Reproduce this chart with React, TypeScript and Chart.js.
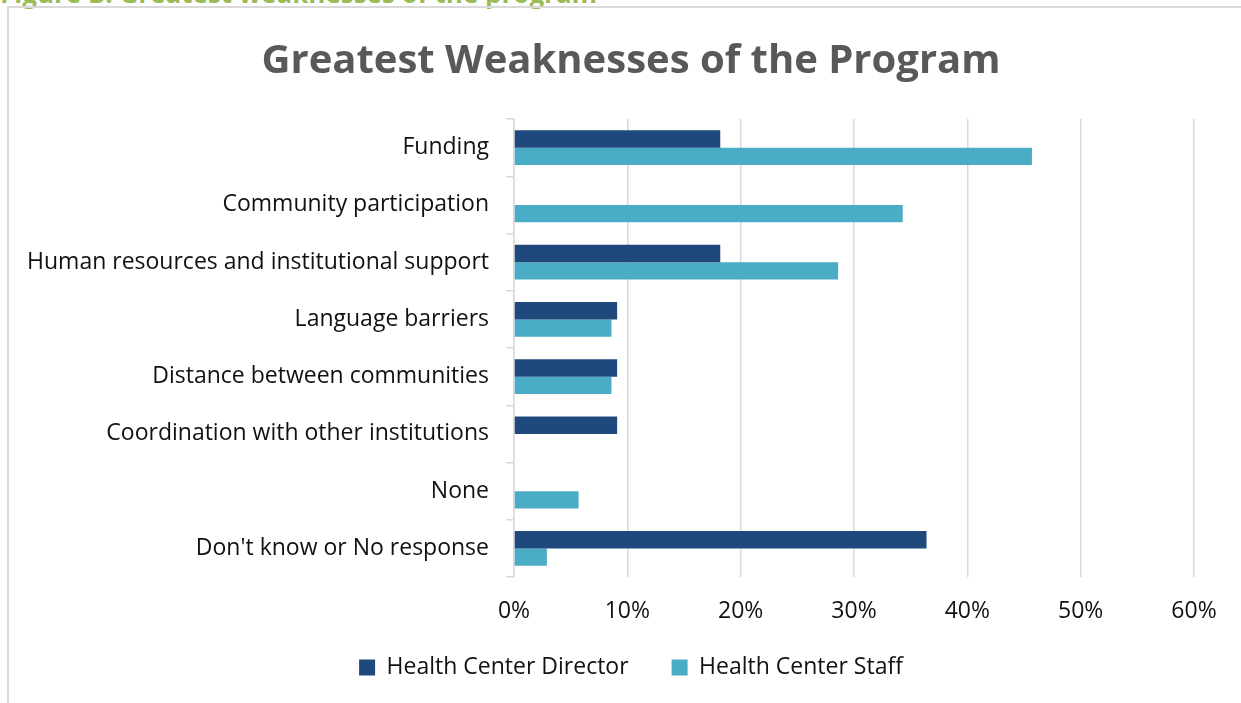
import React, { useEffect, useRef } from "react";
import { Chart, registerables } from "chart.js";

Chart.register(...registerables);

const categories: string[] = [
  "Funding",
  "Community participation",
  "Human resources and institutional support",
  "Language barriers",
  "Distance between communities",
  "Coordination with other institutions",
  "None",
  "Don't know or No response",
];

const directorValues: number[] = [18.2, 0, 18.2, 9.1, 9.1, 9.1, 0, 36.4];
const staffValues: number[] = [45.7, 34.3, 28.6, 8.6, 8.6, 0, 5.7, 2.9];

const seriesNames: string[] = ["Health Center Director", "Health Center Staff"];
const xTicks: number[] = [0, 10, 20, 30, 40, 50, 60];

const chartTitle = "Greatest Weaknesses of the Program";
const captionText = "Figure B: Greatest weaknesses of the program";

const FONT = '"Open Sans", "DejaVu Sans", sans-serif';

// moves the legend up so it sits closer to the axis labels, like the reference
const legendShift = {
  id: "legendShift",
  afterLayout(chart: any) {
    const l = chart.legend;
    if (l) {
      l.top -= 20;
      l.bottom = l.top + 82;
      l.height = 82;
    }
  },
};

export default function App() {
  const ref = useRef<HTMLCanvasElement | null>(null);

  useEffect(() => {
    if (!ref.current) return;
    const chart = new Chart(ref.current, {
      type: "bar",
      data: {
        labels: categories,
        datasets: [
          {
            label: seriesNames[0],
            data: directorValues,
            backgroundColor: "#1F497D",
            borderWidth: 0,
            categoryPercentage: 0.61,
            barPercentage: 1,
          },
          {
            label: seriesNames[1],
            data: staffValues,
            backgroundColor: "#4BACC6",
            borderWidth: 0,
            categoryPercentage: 0.61,
            barPercentage: 1,
          },
        ],
      },
      options: {
        indexAxis: "y",
        responsive: false,
        animation: false,
        layout: { padding: { left: 12, right: 0, top: 0, bottom: 10 } },
        plugins: {
          title: {
            display: true,
            text: chartTitle,
            color: "#595959",
            font: { family: FONT, size: 40, weight: "bold" },
            padding: { top: 30, bottom: 33 },
          },
          legend: {
            display: true,
            position: "bottom",
            maxHeight: 60,
            labels: {
              color: "#111",
              font: { family: FONT, size: 23 },
              boxWidth: 16,
              boxHeight: 16,
              padding: 43,
            },
          },
          tooltip: { enabled: false },
        },
        scales: {
          x: {
            min: 0,
            max: 60,
            afterBuildTicks: (scale: any) => {
              scale.ticks = xTicks.map((v) => ({ value: v }));
            },
            afterFit: (scale: any) => {
              scale.height = 56;
            },
            ticks: {
              color: "#111",
              font: { family: FONT, size: 23 },
              padding: 21,
              callback: (v: any) => `${v}%`,
            },
            grid: {
              color: "#d9d9d9",
              lineWidth: 1.5,
              drawTicks: false,
            },
            border: { display: false },
          },
          y: {
            afterFit: (scale: any) => {
              scale.width = 493;
            },
            ticks: {
              color: "#111",
              font: { family: FONT, size: 23 },
              padding: 17,
            },
            grid: {
              display: true,
              drawOnChartArea: false,
              drawTicks: true,
              tickLength: 8,
              offset: true,
              color: "#d9d9d9",
              lineWidth: 1.5,
            },
            border: { display: true, color: "#d9d9d9", width: 1.5 },
          },
          yRight: {
            type: "category",
            position: "right",
            display: true,
            grid: { display: false },
            ticks: { display: false },
            border: { display: false },
            afterFit: (scale: any) => {
              scale.width = 47;
            },
          },
        },
      },
      plugins: [legendShift],
    });
    return () => chart.destroy();
  }, []);

  return (
    <div
      style={{
        position: "fixed",
        left: 0,
        top: 0,
        width: 1241,
        height: 703,
        overflow: "hidden",
        background: "#ffffff",
      }}
    >
      <div
        style={{
          position: "absolute",
          left: 0,
          top: -20,
          fontFamily: FONT,
          fontWeight: "bold",
          fontSize: 26,
          lineHeight: "26px",
          color: "#9BBB59",
          whiteSpace: "nowrap",
        }}
      >
        {captionText}
      </div>
      <div
        style={{
          position: "absolute",
          left: 7,
          top: 6,
          width: 1240,
          height: 700,
          borderLeft: "2px solid #d9d9d9",
          borderTop: "2px solid #d9d9d9",
        }}
      >
        <canvas ref={ref} width={1232} height={695} style={{ display: "block" }} />
      </div>
    </div>
  );
}
